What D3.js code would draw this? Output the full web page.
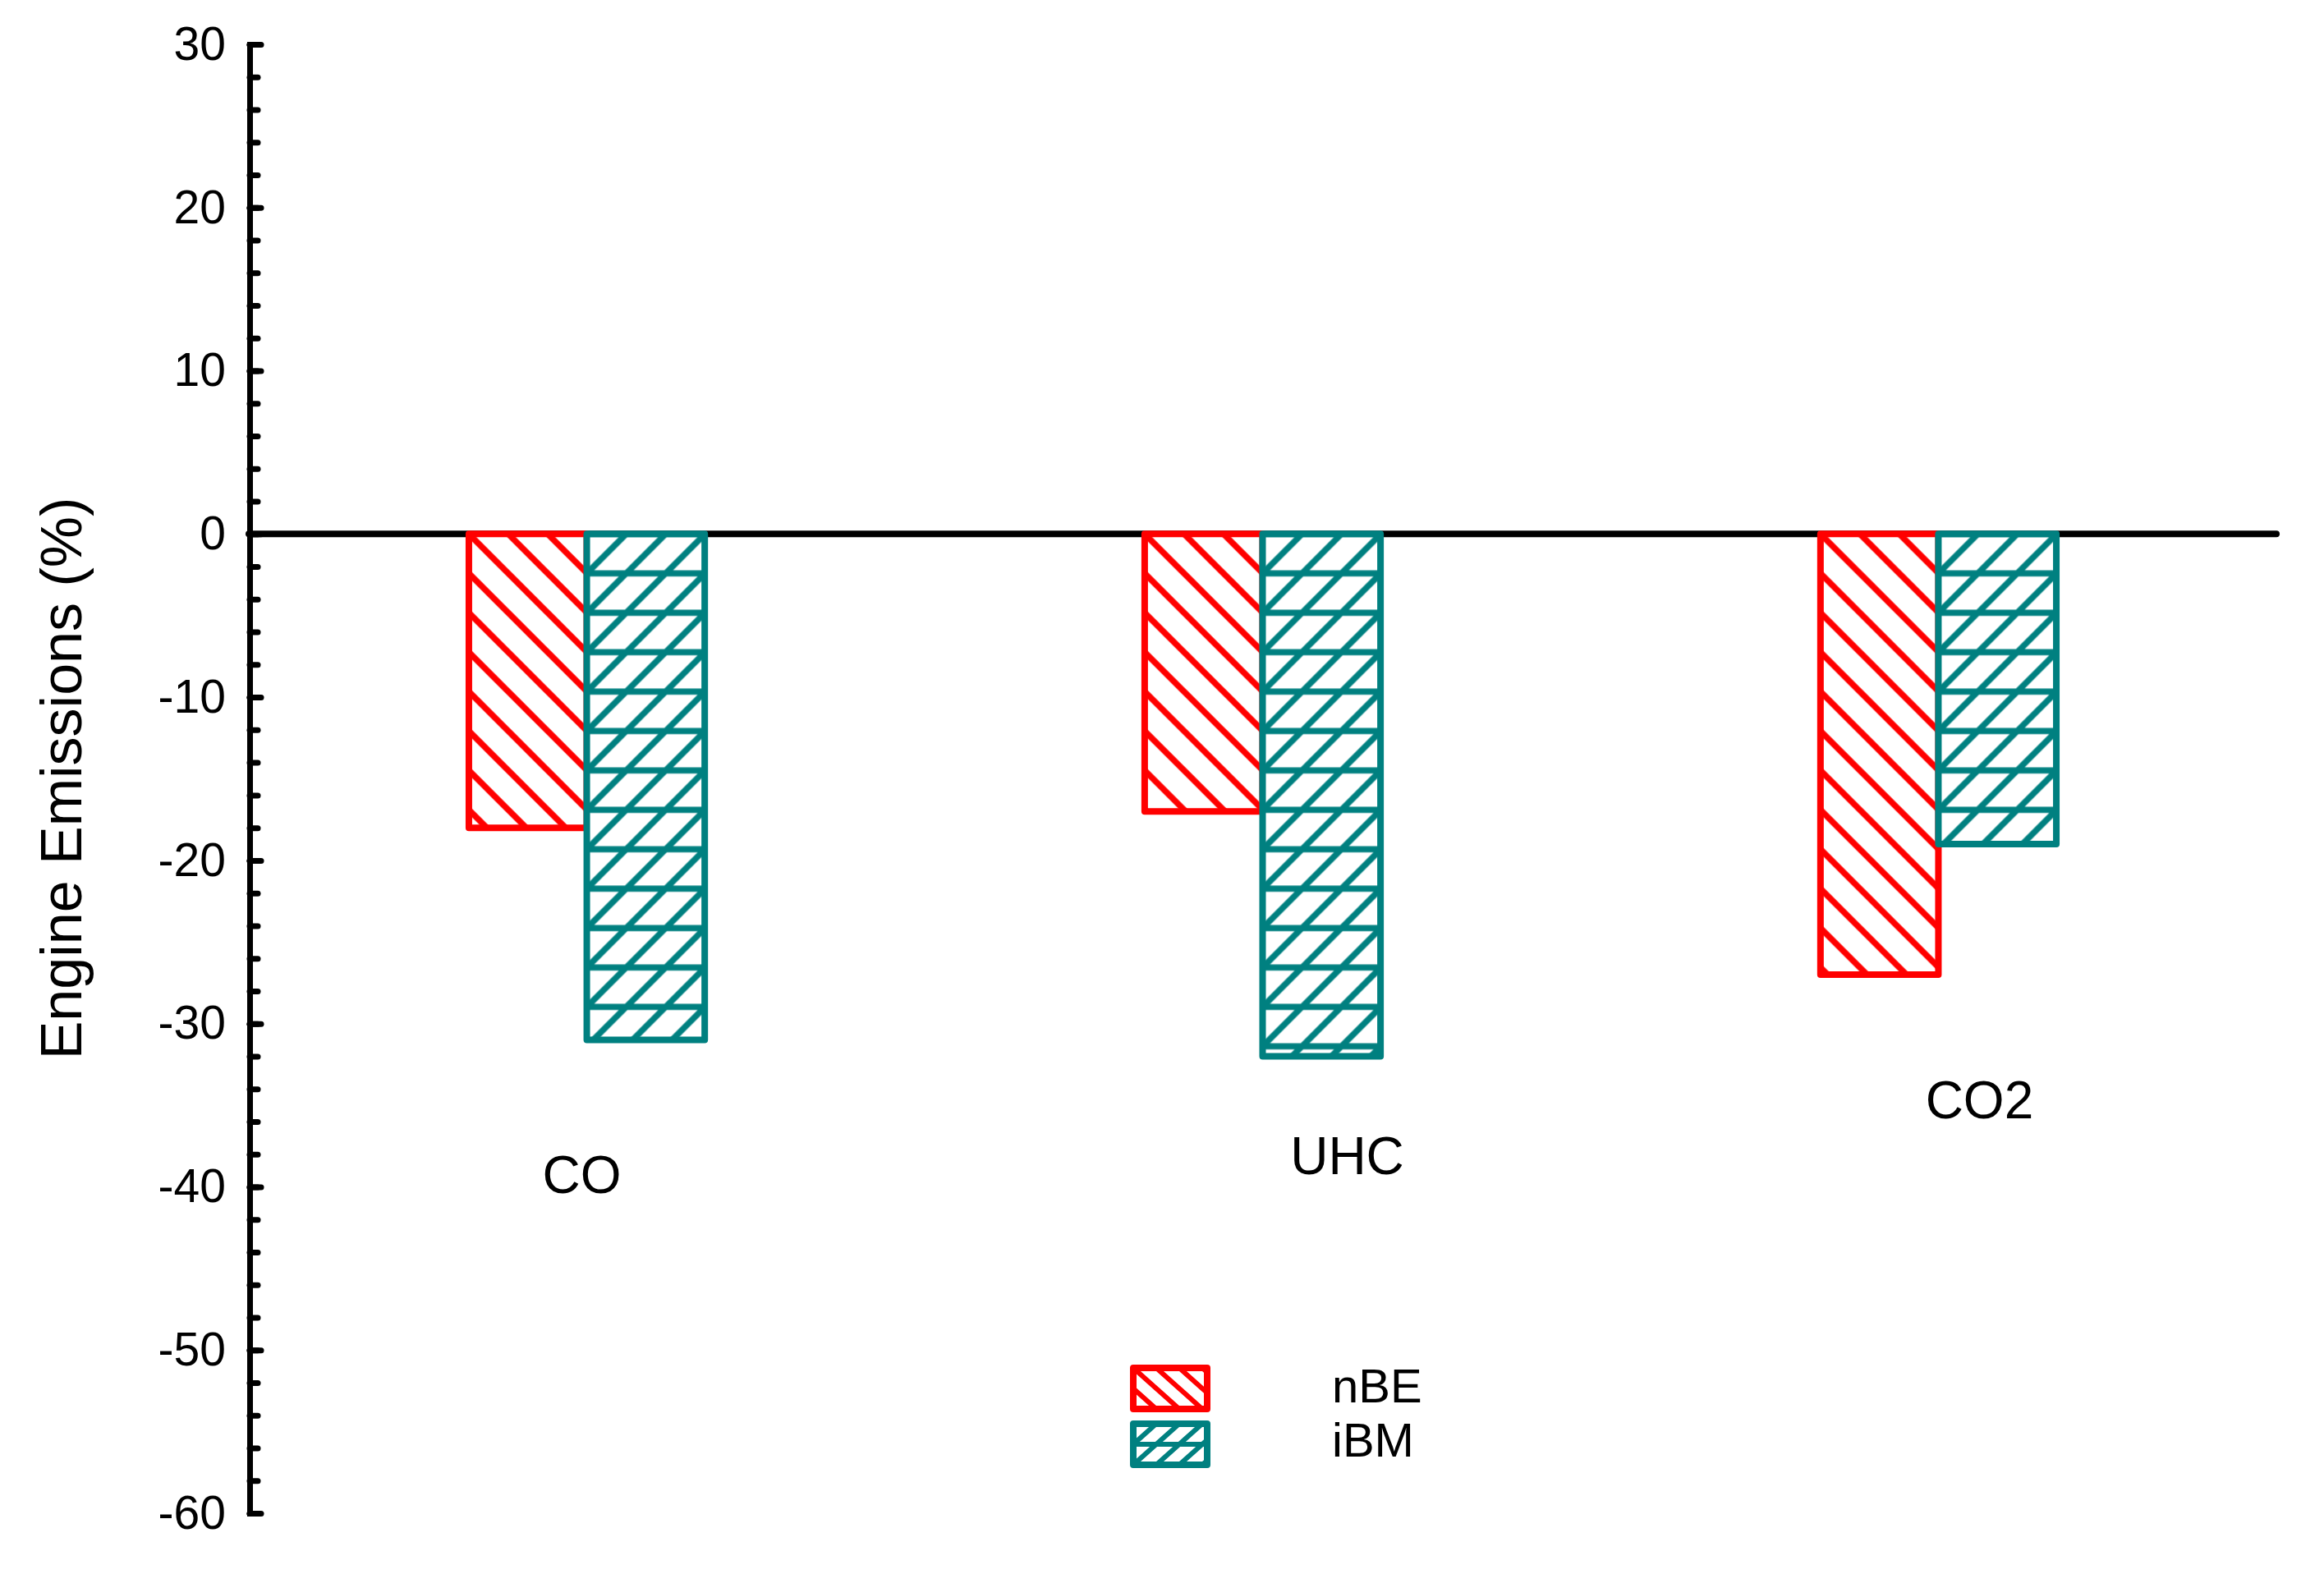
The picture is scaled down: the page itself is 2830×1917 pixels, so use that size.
<!DOCTYPE html>
<html lang="en">
<head>
	<meta charset="utf-8">
	<title>Engine Emissions</title>
	<script src="https://cdn.jsdelivr.net/npm/d3@7"></script>
	<style type="text/css">
		body {
			margin: 0;
			background: white;
		}
		svg text {
			font-family: "Liberation Sans", Arial, sans-serif;
			fill: black;
		}
		.axis path,
		.axis line {
			stroke: black;
		}
	</style>
</head>
<body>
	<div id="vis"></div>

	<script type="text/javascript">

		// data
		var categories = ["CO", "UHC", "CO2"];
		var seriesNames = ["nBE", "iBM"];
		var nBE = [-18, -17, -27];
		var iBM = [-31, -32, -19];
		var yTicks = [30, 20, 10, 0, -10, -20, -30, -40, -50, -60];

		var w = 2830;
		var h = 1917;
		var colors = ["#ff0000", "#008080"];

		// where the category names sit: x offset in px from group centre, y in data units
		var labelOffset = [[-6, -40.4], [103, -39.2], [50, -35.8]];

		var svg = d3.select("#vis")
			.append("svg")
			.attr("width", w)
			.attr("height", h);

		var defs = svg.append("defs");

		var yScale = d3.scaleLinear()
			.domain([-60, 30])
			.range([1843, 54]);

		var x0 = d3.scaleBand()
			.domain(categories)
			.range([303, 2772])
			.paddingInner(0.651)
			.paddingOuter(0.3256);

		var x1 = d3.scaleBand()
			.domain(seriesNames)
			.range([0, x0.bandwidth()]);

		var values = [nBE, iBM];
		var bars = [];
		seriesNames.forEach(function(s, si) {
			categories.forEach(function(c, ci) {
				bars.push({series: s, si: si, cat: c, ci: ci, value: values[si][ci]});
			});
		});

		//Hatch patterns, one per bar so the lines start at the bar's corner
		function addPattern(id, si, px, py, tw, th, sw) {
			var p = defs.append("pattern")
				.attr("id", id)
				.attr("patternUnits", "userSpaceOnUse")
				.attr("x", px)
				.attr("y", py)
				.attr("width", tw)
				.attr("height", th);
			p.append("rect")
				.attr("width", tw)
				.attr("height", th)
				.attr("fill", "white");
			var d;
			if (si === 0) {
				d = "M" + (-tw) + "," + (-th) + "L" + (2 * tw) + "," + (2 * th) +
					"M" + (-tw) + ",0L" + tw + "," + (2 * th) +
					"M0," + (-th) + "L" + (2 * tw) + "," + th;
			} else {
				d = "M" + (-tw) + "," + (2 * th) + "L" + (2 * tw) + "," + (-th) +
					"M" + (-tw) + "," + th + "L" + tw + "," + (-th) +
					"M0," + (2 * th) + "L" + (2 * tw) + ",0" +
					"M0,0H" + tw + "M0," + th + "H" + tw;
			}
			p.append("path")
				.attr("d", d)
				.attr("stroke", colors[si])
				.attr("stroke-width", sw)
				.attr("fill", "none");
		}

		bars.forEach(function(d, i) {
			d.x = x0(d.cat) + x1(d.series);
			addPattern("hatch" + i, d.si, d.x, yScale(0), 48, 48, 7.5);
		});

		//Zero line
		svg.append("line")
			.attr("x1", x0.range()[0])
			.attr("x2", x0.range()[1])
			.attr("y1", yScale(0))
			.attr("y2", yScale(0))
			.attr("stroke", "black")
			.attr("stroke-width", 8)
			.attr("stroke-linecap", "round");

		//Create bars
		svg.selectAll("rect.bar")
			.data(bars)
			.enter()
			.append("rect")
			.attr("class", "bar")
			.attr("x", function(d) { return d.x; })
			.attr("y", yScale(0))
			.attr("width", x1.bandwidth())
			.attr("height", function(d) { return yScale(d.value) - yScale(0); })
			.attr("fill", function(d, i) { return "url(#hatch" + i + ")"; })
			.attr("stroke", function(d) { return colors[d.si]; })
			.attr("stroke-width", 8)
			.attr("stroke-linejoin", "round");

		//Minor ticks
		var minorAxis = d3.axisLeft()
			.scale(yScale)
			.tickValues(d3.range(-60, 31, 2))
			.tickSizeInner(-10)
			.tickSizeOuter(0)
			.tickFormat("");

		svg.append("g")
			.attr("class", "axis minor")
			.attr("transform", "translate(304,0)")
			.call(minorAxis);

		//Y axis (plain hyphen for negatives, as in the original)
		var yAxis = d3.axisLeft()
			.scale(yScale)
			.tickValues(yTicks)
			.tickSizeInner(-14)
			.tickSizeOuter(0)
			.tickPadding(29)
			.tickFormat(function(d) { return String(d); });

		svg.append("g")
			.attr("class", "axis major")
			.attr("transform", "translate(304,0)")
			.call(yAxis);

		svg.selectAll(".axis line")
			.attr("stroke-width", 7)
			.attr("stroke-linecap", "round");
		svg.selectAll(".axis path.domain")
			.attr("stroke-width", 7)
			.attr("stroke-linecap", "square");
		svg.selectAll(".axis text")
			.attr("font-size", "57px")
			.attr("font-family", "Liberation Sans, Arial, sans-serif");

		//Y axis title
		svg.append("text")
			.attr("transform", "translate(99," + 948 + ") rotate(-90)")
			.attr("text-anchor", "middle")
			.attr("font-size", "70px")
			.text("Engine Emissions (%)");

		//Category labels
		svg.selectAll("text.cat")
			.data(categories)
			.enter()
			.append("text")
			.attr("class", "cat")
			.attr("text-anchor", "middle")
			.attr("font-size", "64px")
			.attr("x", function(d, i) { return x0(d) + x0.bandwidth() / 2 + labelOffset[i][0]; })
			.attr("y", function(d, i) { return yScale(labelOffset[i][1]); })
			.text(function(d) { return d; });

		//Legend
		var legend = svg.append("g")
			.attr("transform", "translate(1380,1666)");

		seriesNames.forEach(function(s, i) {
			var ly = i * 68;
			addPattern("legend" + i, i, 0, ly, 28, 25, 6);
			legend.append("rect")
				.attr("x", 0)
				.attr("y", ly)
				.attr("width", 90)
				.attr("height", 50)
				.attr("fill", "url(#legend" + i + ")")
				.attr("stroke", colors[i])
				.attr("stroke-width", 8)
				.attr("stroke-linejoin", "round");
			legend.append("text")
				.attr("x", 242)
				.attr("y", 42 + ly - 2 * i)
				.attr("font-size", "58px")
				.text(s);
		});

	</script>
</body>
</html>
